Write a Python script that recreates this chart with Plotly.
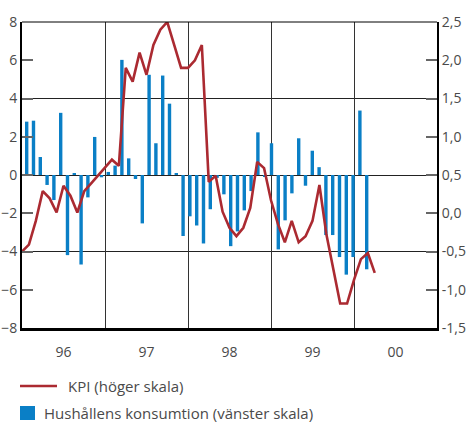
import plotly.graph_objects as go

# ---- data ----
# Hushållens konsumtion, monthly Jan 1996 .. Mar 2000 (left scale)
cons_month = list(range(51))
cons = [2.79, 2.84, 0.94, -0.52, -1.31, 3.25, -4.19, 0.10, -4.68, -1.17, 1.99, -0.12,
        0.16, 0.49, 6.02, 0.87, -0.21, -2.53, 5.24, 1.66, 5.20, 3.73, 0.10, -3.19,
        -2.16, -2.64, -3.58, -1.79, -0.15, -1.01, -3.72, -2.95, -1.85, -0.84, 2.23, -0.10,
        1.66, -3.89, -2.37, -0.96, 1.92, -0.56, 1.27, 0.41, -3.14, -3.14, -4.29, -5.21,
        -4.29, 3.37, -4.93]

# KPI, monthly Jan 1996 .. Apr 2000 (right scale)
kpi_month = list(range(52))
kpi = [-0.50, -0.41, -0.10, 0.29, 0.195, 0.01, 0.36, 0.23, 0.01, 0.29, 0.39, 0.49,
       0.59, 0.70, 0.62, 1.90, 1.72, 2.10, 1.81, 2.20, 2.40, 2.50, 2.20, 1.90,
       1.90, 2.00, 2.20, 0.41, 0.49, 0.02, -0.19, -0.30, -0.19, 0.07, 0.67, 0.59,
       0.17, -0.14, -0.38, -0.10, -0.38, -0.30, -0.10, 0.37, -0.27, -0.72, -1.18, -1.18,
       -0.87, -0.60, -0.52, -0.78]

year_pos = [6, 18, 30, 42, 54]
year_labels = ["96", "97", "98", "99", "00"]
year_bounds = [12, 24, 36, 48]

left_ticks = [-8, -6, -4, -2, 0, 2, 4, 6, 8]
right_ticks = [-1.5, -1.0, -0.5, 0.0, 0.5, 1.0, 1.5, 2.0, 2.5]
right_labels = ["-1,5", "-1,0", "-0,5", "0,0", "0,5", "1,0", "1,5", "2,0", "2,5"]

kpi_name = "KPI (höger skala)"
cons_name = "Hushållens konsumtion (vänster skala)"

BLUE = "#0A7FC6"
RED = "#AB2A31"
TXT = "#4a4a4a"
FONT = "Open Sans"

W, H = 467, 422
ML, MR, MT, MB = 22, 30, 22, 94
PW, PH = W - ML - MR, H - MT - MB


def px_x(px):
    return (px - ML) / PW


def px_y(py):
    return (H - MB - py) / PH


fig = go.Figure()
fig.add_trace(go.Bar(
    x=cons_month, y=cons, xaxis="x", yaxis="y",
    marker=dict(color=BLUE, line=dict(width=0)), width=0.5,
    name=cons_name, showlegend=False,
))
fig.add_trace(go.Scatter(
    x=kpi_month, y=kpi, xaxis="x2", yaxis="y2", mode="lines",
    line=dict(color=RED, width=2.6),
    name=kpi_name, showlegend=False,
))

# legend drawn below the plot
shapes = [
    dict(type="line", xref="paper", yref="paper", x0=0, x1=1, y0=1, y1=1,
         line=dict(color="black", width=1)),
    dict(type="line", xref="paper", yref="paper",
         x0=px_x(20), x1=px_x(57), y0=px_y(386), y1=px_y(386),
         line=dict(color=RED, width=2.6)),
    dict(type="rect", xref="paper", yref="paper",
         x0=px_x(20), x1=px_x(35), y0=px_y(420), y1=px_y(406),
         fillcolor=BLUE, line=dict(width=0)),
]
annotations = [
    dict(text=kpi_name, xref="paper", yref="paper", x=px_x(66), y=px_y(386),
         xanchor="left", yanchor="middle", showarrow=False,
         font=dict(family=FONT, size=15, color=TXT)),
    dict(text=cons_name, xref="paper", yref="paper", x=px_x(42), y=px_y(413),
         xanchor="left", yanchor="middle", showarrow=False,
         font=dict(family=FONT, size=15, color=TXT)),
]

fig.update_layout(
    width=W, height=H,
    margin=dict(l=ML, r=MR, t=MT, b=MB, autoexpand=False),
    paper_bgcolor="white", plot_bgcolor="white",
    font=dict(family=FONT, size=14, color=TXT),
    showlegend=False,
    xaxis=dict(range=[-0.69, 60.34], visible=False, fixedrange=True),
    xaxis2=dict(
        overlaying="x", side="bottom", range=[0, 60],
        tickmode="array", tickvals=year_pos, ticktext=year_labels,
        ticks="", showgrid=False, zeroline=False,
        showline=True, linecolor="black", linewidth=2.5,
        ticklabelstandoff=9, automargin=False,
        minor=dict(tickmode="array", tickvals=year_bounds, showgrid=True,
                   gridcolor="#333", gridwidth=1, ticks=""),
    ),
    yaxis=dict(
        range=[-8, 8], tickmode="array", tickvals=left_ticks,
        ticks="inside", ticklen=11, tickcolor="#666", tickwidth=1.5,
        showgrid=False, zeroline=False, automargin=False,
        showline=True, linecolor="black", linewidth=2,
        minor=dict(tickmode="array", tickvals=[-4, 0, 4], showgrid=True,
                   gridcolor="#222", gridwidth=1, ticks=""),
    ),
    yaxis2=dict(
        overlaying="y", side="right", range=[-1.5, 2.5],
        tickmode="array", tickvals=right_ticks, ticktext=right_labels,
        ticks="inside", ticklen=11, tickcolor="#666", tickwidth=1.5,
        showgrid=False, zeroline=False, automargin=False,
        showline=True, linecolor="black", linewidth=2,
    ),
    shapes=shapes,
    annotations=annotations,
)

fig.write_html("out.html")
